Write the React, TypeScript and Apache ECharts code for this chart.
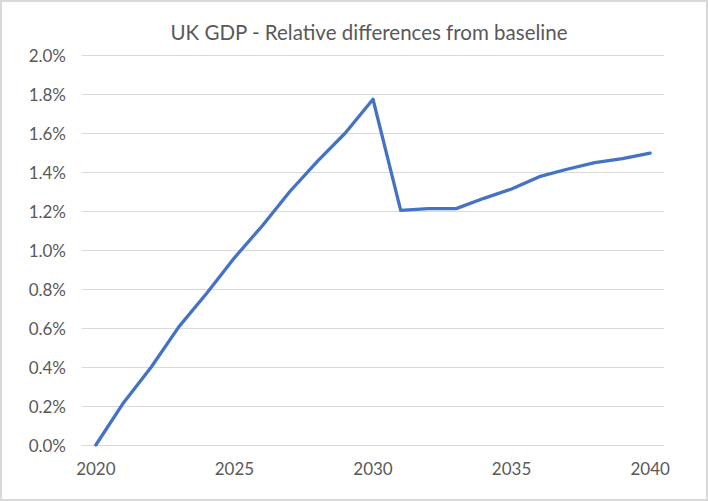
import React, { useEffect, useRef } from "react";
import * as echarts from "echarts";

const years: string[] = [
  "2020", "2021", "2022", "2023", "2024", "2025", "2026", "2027", "2028", "2029", "2030",
  "2031", "2032", "2033", "2034", "2035", "2036", "2037", "2038", "2039", "2040",
];
const gdpDiff: number[] = [
  0.0, 0.217, 0.40, 0.607, 0.778, 0.96, 1.123, 1.30, 1.456, 1.60, 1.773,
  1.203, 1.212, 1.212, 1.265, 1.313, 1.376, 1.414, 1.448, 1.468, 1.497,
];
const titleText = "UK GDP - Relative differences from baseline";

export default function App() {
  const ref = useRef<HTMLDivElement>(null);
  useEffect(() => {
    if (!ref.current) return;
    const chart = echarts.init(ref.current, null, { renderer: "svg" });
    const font = "Lato, 'Open Sans', sans-serif";
    chart.setOption({
      animation: false,
      backgroundColor: "#ffffff",
      title: {
        text: titleText,
        left: 362,
        top: 14,
        textAlign: "center",
        textStyle: { fontFamily: font, fontSize: 20.5, fontWeight: "normal", color: "#595959" },
      },
      grid: { left: 80, right: 42, top: 53, bottom: 54, containLabel: false },
      xAxis: {
        type: "category",
        data: years,
        boundaryGap: true,
        axisLine: { show: true, lineStyle: { color: "#d9d9d9", width: 1 } },
        axisTick: { show: false },
        axisLabel: {
          interval: 4,
          margin: 15,
          color: "#595959",
          fontFamily: font,
          fontSize: 17,
        },
        splitLine: { show: false },
      },
      yAxis: {
        type: "value",
        min: 0,
        max: 2,
        interval: 0.2,
        axisLine: { show: false },
        axisTick: { show: false },
        axisLabel: {
          margin: 16,
          color: "#595959",
          fontFamily: font,
          fontSize: 17,
          formatter: (v: number) => `${v.toFixed(1)}%`,
        },
        splitLine: { show: true, lineStyle: { color: "#d9d9d9", width: 1 } },
      },
      series: [
        {
          type: "line",
          data: gdpDiff,
          showSymbol: false,
          symbol: "none",
          lineStyle: { color: "#4472C4", width: 3.3, join: "round", cap: "round" },
          itemStyle: { color: "#4472C4" },
        },
      ],
    });
    return () => chart.dispose();
  }, []);
  return (
    <div style={{ position: "fixed", left: 0, top: 0, width: 708, height: 501, background: "#d9d9d9" }}>
      <div ref={ref} style={{ position: "absolute", left: 2, top: 2, width: 704, height: 497, background: "#fff" }} />
    </div>
  );
}
